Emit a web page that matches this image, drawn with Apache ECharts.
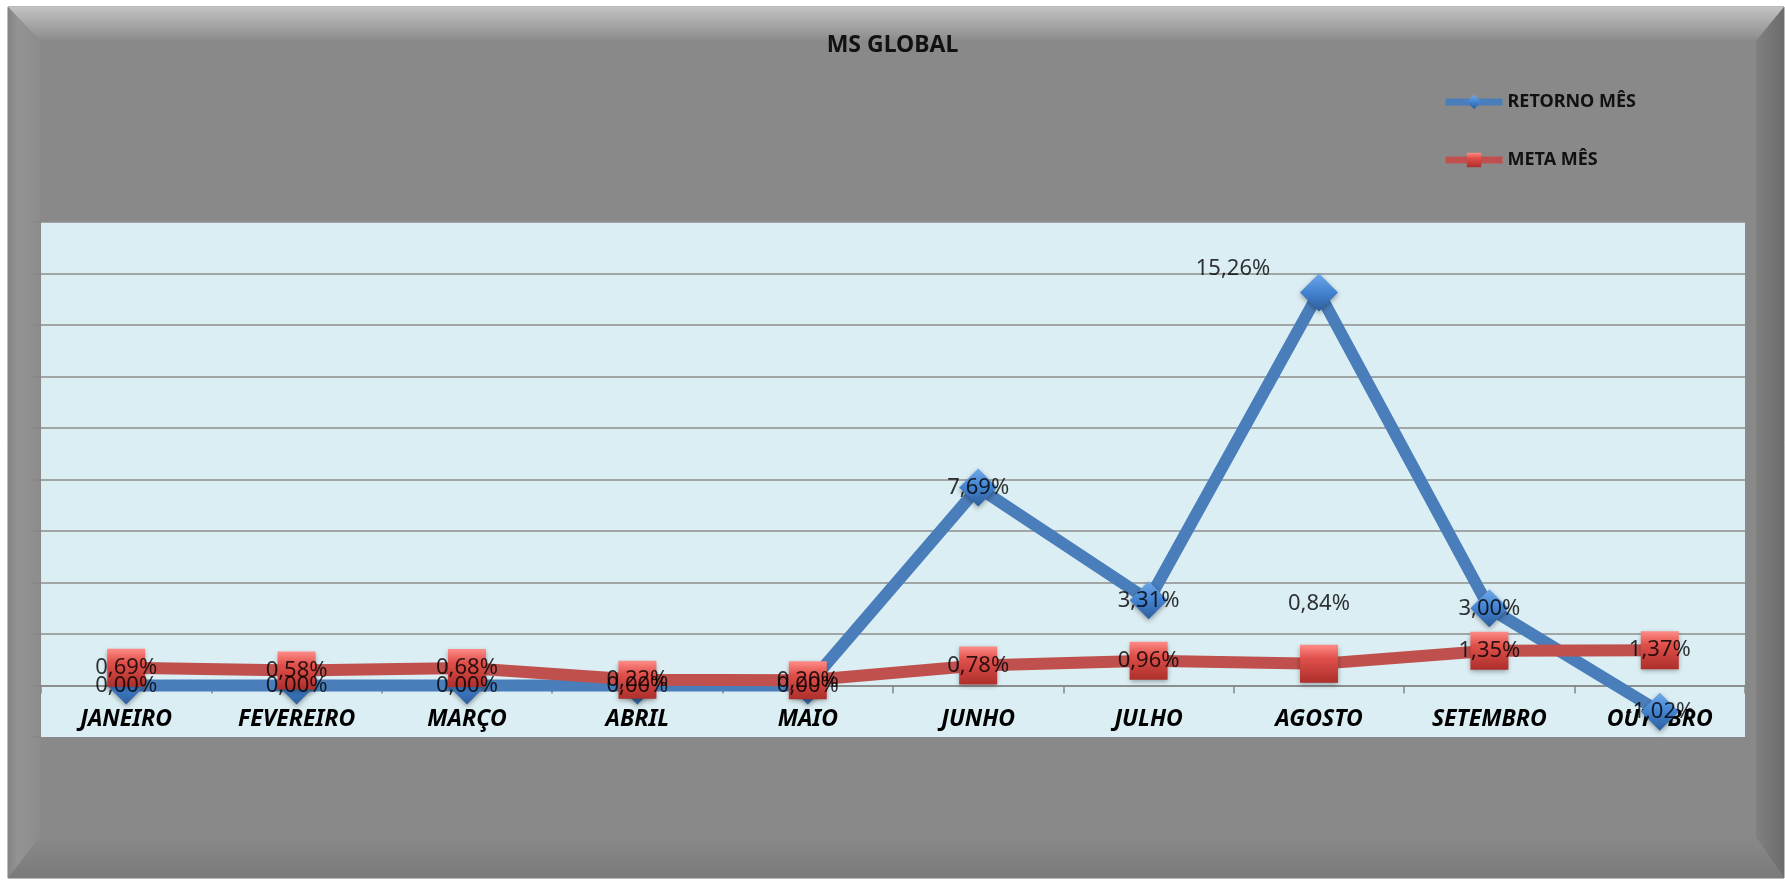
<!DOCTYPE html>
<html>
<head>
<meta charset="utf-8">
<title>MS GLOBAL</title>
<script src="https://cdn.jsdelivr.net/npm/echarts@6/dist/echarts.min.js"></script>
<style>
html,body{margin:0;padding:0;background:#fff;}
#chart{width:1785px;height:880px;}
</style>
</head>
<body>
<div id="chart"></div>
<script>
// dados
var meses = ['JANEIRO','FEVEREIRO','MARÇO','ABRIL','MAIO','JUNHO','JULHO','AGOSTO','SETEMBRO','OUTUBRO'];
var retornoMes = [0.00, 0.00, 0.00, 0.00, 0.00, 7.69, 3.31, 15.26, 3.00, -1.02];
var metaMes = [0.69, 0.58, 0.68, 0.22, 0.20, 0.78, 0.96, 0.84, 1.35, 1.37];
var nomes = ['RETORNO MÊS', 'META MÊS'];

// rotulos deslocados no original (indice -> [dx, dy])
var desvioRetorno = {7: [-86, -24]};
var desvioMeta = {7: [0, -60]};

var fonte = '"Noto Sans", "Open Sans", sans-serif';
var azul = '#4a7ebb', vermelho = '#c0504d';

function pct(v){ return v.toFixed(2).replace('.', ',') + '%'; }

function rotulos(valores, desvios){
  return valores.map(function(v, i){
    var item = {value: v};
    if (desvios[i]) item.label = {offset: desvios[i]};
    return item;
  });
}

var grad = echarts.graphic.LinearGradient;
var myChart = echarts.init(document.getElementById('chart'));

myChart.setOption({
  animation: false,
  backgroundColor: 'transparent',
  graphic: {elements: [
    {type: 'rect', z: -10, shape: {x: 8, y: 7, width: 1776, height: 871},
      style: {fill: '#898989', stroke: '#777', lineWidth: 1}},
    {type: 'polygon', z: -9, shape: {points: [[8,7],[1784,7],[1756,41],[40,41]]},
      style: {fill: new grad(0,0,0,1,[{offset:0,color:'#c2c2c2'},{offset:1,color:'#8b8b8b'}])}},
    {type: 'polygon', z: -9, shape: {points: [[8,7],[40,41],[40,837],[8,878]]},
      style: {fill: new grad(0,0,1,0,[{offset:0,color:'#848484'},{offset:0.3,color:'#939393'},{offset:1,color:'#8c8c8c'}])}},
    {type: 'polygon', z: -9, shape: {points: [[1784,7],[1756,41],[1756,837],[1784,878]]},
      style: {fill: new grad(0,0,1,0,[{offset:0,color:'#808080'},{offset:1,color:'#6c6c6c'}])}},
    {type: 'polygon', z: -9, shape: {points: [[8,878],[40,837],[1756,837],[1784,878]]},
      style: {fill: new grad(0,0,0,1,[{offset:0,color:'#898989'},{offset:1,color:'#7a7a7a'}])}}
  ]},
  title: {
    text: 'MS GLOBAL', left: 'center', top: 32, padding: 0,
    textStyle: {fontFamily: fonte, fontSize: 23, fontWeight: 'bold', color: '#111', lineHeight: 26}
  },
  legend: {
    data: nomes, orient: 'vertical', left: 1442, top: 93, padding: 0,
    itemWidth: 57, itemHeight: 18, itemGap: 40,
    lineStyle: {width: 7},
    textStyle: {fontFamily: fonte, fontSize: 18, fontWeight: 'bold', color: '#111', lineHeight: 18}
  },
  grid: {
    left: 41, right: 40, top: 222, bottom: 143,
    show: true, backgroundColor: '#dbeef3', borderWidth: 0,
    outerBoundsMode: 'none'
  },
  xAxis: {
    type: 'category', data: meses, boundaryGap: true,
    axisLine: {onZero: true, lineStyle: {color: '#868686', width: 1.5}},
    axisTick: {show: true, length: 8, inside: false, lineStyle: {color: '#868686', width: 1.5}},
    // rotulos junto da linha do zero, como no original
    axisLabel: {margin: -29, fontFamily: fonte, fontSize: 23, fontWeight: 'bold', fontStyle: 'italic', color: '#000'},
    splitLine: {show: false}
  },
  yAxis: {
    type: 'value', min: -2, max: 18, interval: 2,
    axisLine: {show: false},
    axisTick: {show: true, length: 9, lineStyle: {color: '#868686', width: 1.5}},
    axisLabel: {show: false},
    splitLine: {show: true, showMinLine: false, lineStyle: {color: '#8c8c8c', width: 1.5}}
  },
  series: [
    {
      name: nomes[0], type: 'line', data: retornoMes, z: 2,
      symbol: 'diamond', symbolSize: 38,
      lineStyle: {color: azul, width: 12},
      itemStyle: {
        color: new grad(0,0,0,1,[{offset:0,color:'#6fa8ea'},{offset:0.5,color:'#4282cf'},{offset:1,color:'#2e5e9c'}]),
        shadowBlur: 5, shadowColor: 'rgba(0,0,0,0.35)', shadowOffsetY: 2
      },
      emphasis: {disabled: true}, label: {show: false}
    },
    {
      name: nomes[1], type: 'line', data: metaMes, z: 3,
      symbol: 'rect', symbolSize: 38,
      lineStyle: {color: vermelho, width: 12},
      itemStyle: {
        color: new grad(0,0,0,1,[{offset:0,color:'#ff8c87'},{offset:0.35,color:'#e0504b'},{offset:1,color:'#ad2f2b'}]),
        shadowBlur: 5, shadowColor: 'rgba(0,0,0,0.35)', shadowOffsetY: 2
      },
      emphasis: {disabled: true}, label: {show: false}
    },
    {
      name: 'rot_retorno', type: 'scatter', data: rotulos(retornoMes, desvioRetorno), z: 10,
      symbolSize: 1, itemStyle: {color: 'transparent'}, silent: true,
      label: {show: true, position: 'inside', fontFamily: fonte, fontSize: 22, color: '#000',
        formatter: function(p){ return pct(p.value); }}
    },
    {
      name: 'rot_meta', type: 'scatter', data: rotulos(metaMes, desvioMeta), z: 10,
      symbolSize: 1, itemStyle: {color: 'transparent'}, silent: true,
      label: {show: true, position: 'inside', fontFamily: fonte, fontSize: 22, color: '#000',
        formatter: function(p){ return pct(p.value); }}
    }
  ]
});
</script>
</body>
</html>
